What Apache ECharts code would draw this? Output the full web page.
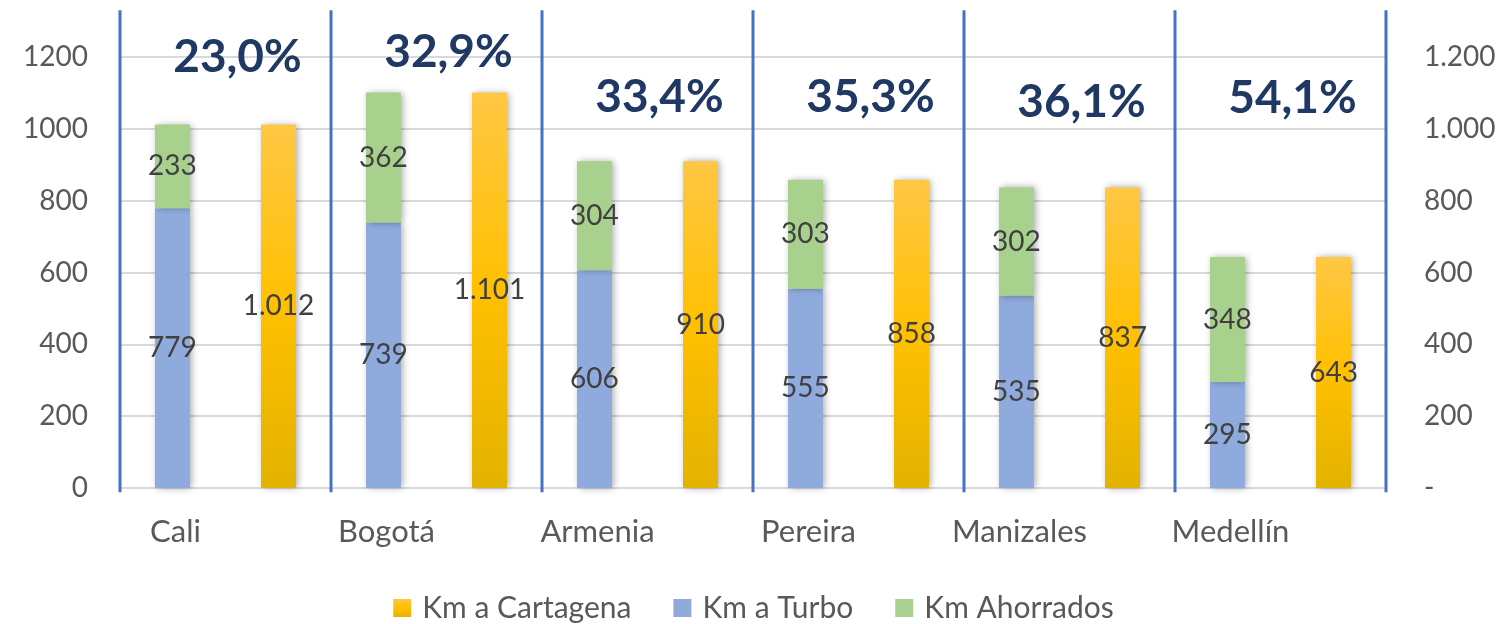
<!DOCTYPE html>
<html>
<head>
<meta charset="utf-8">
<script src="https://cdn.jsdelivr.net/npm/echarts@6/dist/echarts.min.js"></script>
<style>html,body{margin:0;padding:0;background:#fff}#c{width:1507px;height:624px}</style>
</head>
<body>
<div id="c"></div>
<script>
// ---- data ----
var categories = ['Cali', 'Bogotá', 'Armenia', 'Pereira', 'Manizales', 'Medellín'];
var kmTurbo = [779, 739, 606, 555, 535, 295];
var kmAhorrados = [233, 362, 304, 303, 302, 348];
var kmCartagena = [1012, 1101, 910, 858, 837, 643];
var pctLabels = ['23,0%', '32,9%', '33,4%', '35,3%', '36,1%', '54,1%'];

// ---- layout (not data) ----
var pctLevel = [1200, 1214, 1089, 1089, 1075, 1086];
var FONT = 'Lato';

function fmtDot(v) {
  return String(v).replace(/\B(?=(\d{3})+(?!\d))/g, '.');
}

var chart = echarts.init(document.getElementById('c'));
var labelStyle = {show: true, position: 'inside', color: '#404040', fontFamily: FONT, fontSize: 28};
var shadow = {shadowBlur: 7, shadowColor: 'rgba(0,0,0,0.35)', shadowOffsetX: 2, shadowOffsetY: 0};

chart.setOption({
  animation: false,
  textStyle: {fontFamily: FONT},
  grid: {left: 120, right: 121, top: 57, bottom: 136, containLabel: false},
  legend: {
    data: ['Km a Cartagena', 'Km a Turbo', 'Km Ahorrados'],
    top: 588, left: 'center', icon: 'rect', itemWidth: 18, itemHeight: 18, itemGap: 42,
    textStyle: {fontFamily: FONT, fontSize: 30, color: '#595959', padding: [0, 0, 0, 6]}
  },
  xAxis: {
    type: 'category', data: categories,
    axisLine: {show: true, lineStyle: {color: '#D9D9D9', width: 2}},
    axisTick: {show: false},
    axisLabel: {color: '#595959', fontSize: 31, fontFamily: FONT, margin: 28, padding: [0, 100, 0, 0]}
  },
  yAxis: [{
    type: 'value', min: 0, max: 1200, interval: 200,
    axisLine: {show: false}, axisTick: {show: false},
    splitLine: {lineStyle: {color: '#D9D9D9', width: 2}},
    axisLabel: {color: '#595959', fontSize: 28, fontFamily: FONT, margin: 32,
      formatter: function (v) { return String(v); }}
  }, {
    type: 'value', min: 0, max: 1200, interval: 200, position: 'right',
    axisLine: {show: false}, axisTick: {show: false}, splitLine: {show: false},
    axisLabel: {color: '#595959', fontSize: 28, fontFamily: FONT, margin: 38, align: 'left',
      formatter: function (v) { return v === 0 ? '-' : fmtDot(v); }}
  }],
  series: [{
    name: 'Km a Turbo', type: 'bar', stack: 'a', data: kmTurbo, barWidth: 35, barGap: '203%',
    itemStyle: Object.assign({color: '#8FAADC'}, shadow), label: labelStyle
  }, {
    name: 'Km Ahorrados', type: 'bar', stack: 'a', data: kmAhorrados, barWidth: 35,
    itemStyle: Object.assign({color: '#A9D18E'}, shadow), label: labelStyle
  }, {
    name: 'Km a Cartagena', type: 'bar', data: kmCartagena, barWidth: 35,
    itemStyle: Object.assign({
      color: new echarts.graphic.LinearGradient(0, 0, 0, 1, [
        {offset: 0, color: '#FFC745'}, {offset: 0.5, color: '#FFC000'}, {offset: 1, color: '#E3B200'}])
    }, shadow),
    label: Object.assign({}, labelStyle, {formatter: function (p) { return fmtDot(p.value); }})
  }, {
    type: 'custom', clip: false, silent: true, z: 5,
    data: categories.map(function (c, i) { return [i, pctLevel[i]]; }),
    renderItem: function (params, api) {
      var i = api.value(0);
      var center = api.coord([i, 0]);
      var w = api.size([1, 0])[0];
      var top = api.coord([i, 1330])[1];
      var bottom = api.coord([i, -12])[1];
      var xl = center[0] - w / 2;
      var children = [{
        type: 'line', shape: {x1: xl, y1: top, x2: xl, y2: bottom},
        style: {stroke: '#4472C4', lineWidth: 3}
      }, {
        type: 'text',
        style: {
          text: pctLabels[i], x: center[0] + 12, y: api.coord([i, api.value(1)])[1],
          align: 'center', verticalAlign: 'middle',
          fill: '#1F3864', fontFamily: FONT, fontWeight: 'bold', fontSize: 46
        }
      }];
      if (i === categories.length - 1) {
        children.push({
          type: 'line', shape: {x1: xl + w, y1: top, x2: xl + w, y2: bottom},
          style: {stroke: '#4472C4', lineWidth: 3}
        });
      }
      return {type: 'group', children: children};
    }
  }]
});
</script>
</body>
</html>
